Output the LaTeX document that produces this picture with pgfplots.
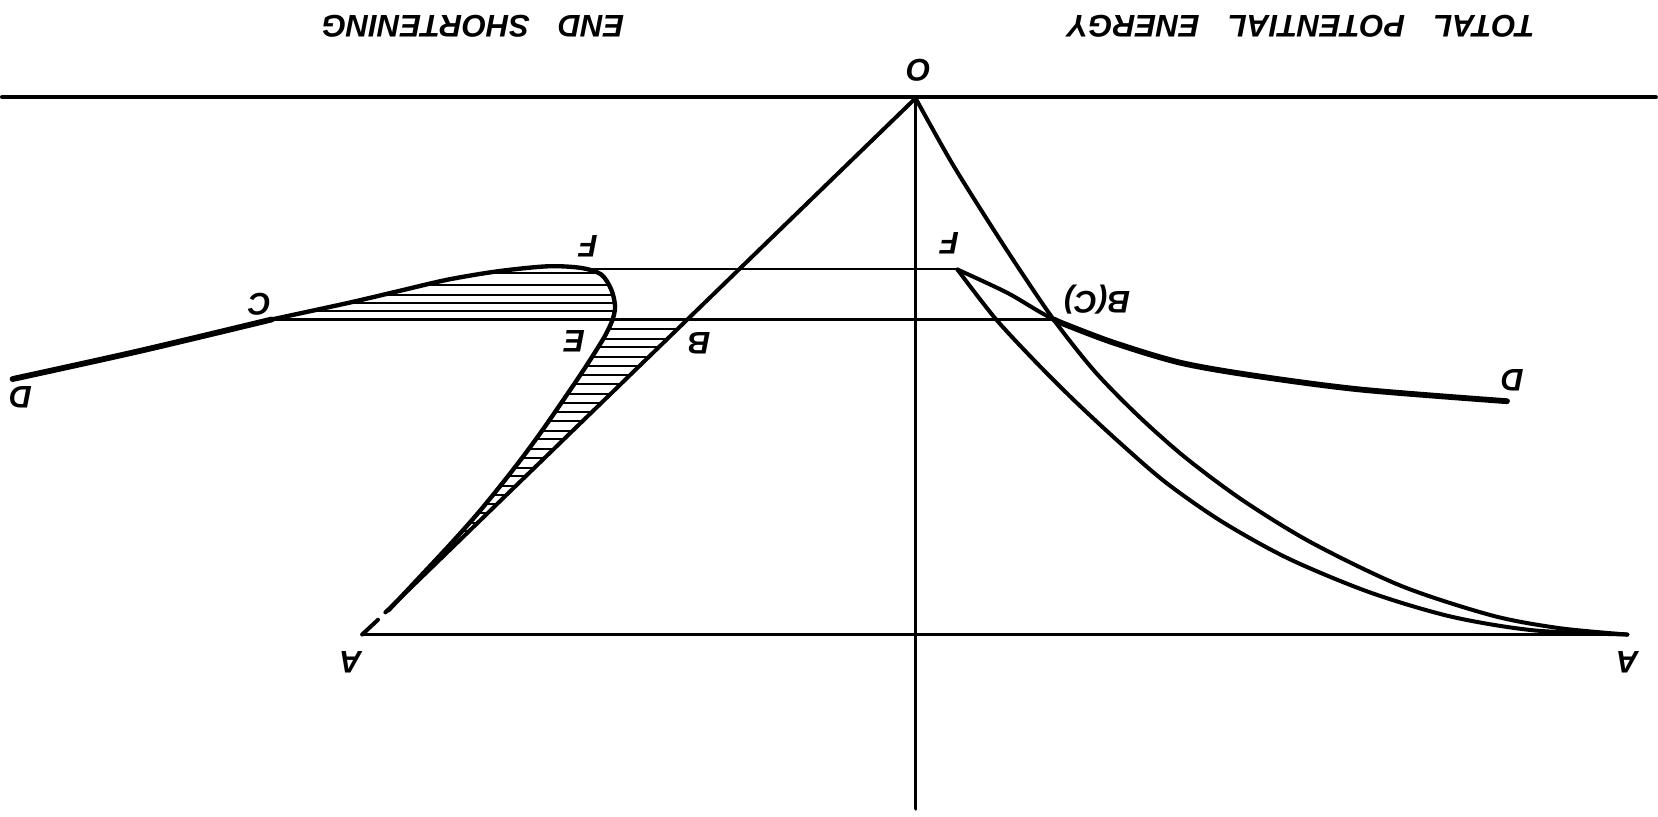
\documentclass[border=0pt]{standalone}
\usepackage{fontspec}
\setmainfont{Liberation Sans}
\usepackage{pgfplots}
\usepackage{pgfplotstable}
\pgfplotsset{compat=1.18}

% hatch lines: left end, right end, y (picture units, y downwards)
\pgfplotstableread{
x y
460 259
567.4 259
nan nan
402.2 269.5
573.7 269.5
nan nan
361.5 279
577.8 279
nan nan
327.3 287
579.8 287
nan nan
290.4 295
578.8 295
}\hatchup

\pgfplotstableread{
x y
573.8 312
639.1 312
nan nan
569.2 321
629.8 321
nan nan
564.3 329
621.6 329
nan nan
558.7 338
612.3 338
nan nan
552.9 347
603 347
nan nan
547.7 355
594.7 355
nan nan
541.6 364
585.5 364
nan nan
535.4 373
576.2 373
nan nan
529.3 382
566.9 382
nan nan
523.8 390
558.6 390
nan nan
517.5 399
549.4 399
nan nan
511.3 408
540.1 408
nan nan
505.4 416
531.8 416
nan nan
498.8 425
522.5 425
nan nan
492.2 434
513.3 434
nan nan
485.2 443
504 443
nan nan
479 451
495.7 451
nan nan
472 460
486.4 460
nan nan
464.6 469
477.2 469
nan nan
458 477
468.9 477
nan nan
450.7 486
459.6 486
nan nan
442.7 495
450.3 495
nan nan
435.6 503
442.1 503
}\hatchlow

\begin{document}
\begin{tikzpicture}
\begin{axis}[
    width=16cm, height=7.885cm, scale only axis,
    xmin=0, xmax=1568, ymin=0, ymax=773,
    y dir=reverse,
    hide axis, clip=false,
    unbounded coords=jump,
    every axis plot/.append style={black, line cap=round, line join=round},
]
% frame of the picture
\addplot[draw=none] coordinates {(0,0) (1568,773)};

% reference lines
\addplot[line width=1.1pt] coordinates {(0,92) (1566,92)};
\addplot[line width=1.05pt] coordinates {(865,93) (865,766)};
\addplot[line width=0.75pt] coordinates {(341,601) (1539,601)};
\addplot[line width=0.7pt] coordinates {(548,254.7) (905,254.7)};
\addplot[line width=0.7pt] coordinates {(255.3,302.6) (996,302.6)};

% straight line O-A (with the small break near A)
\addplot[line width=1.1pt] coordinates {(865,93) (363,580)};
\addplot[line width=1.1pt] coordinates {(356,587) (341,601)};

% end shortening path D-C-F-E-A
\addplot[line width=1.6pt, smooth] coordinates {(10,359) (130,332.5) (255.3,302.6)};
\addplot[line width=1.2pt, smooth] coordinates {
    (255.3,302.6) (327.8,286.9) (375.1,275.8) (422.4,264.8) (469.7,256.9)
    (517,252.2) (548.5,253.8) (567.4,260) (576.9,274.3) (580.5,290)
    (578,303) (571,318) (560,336) (547,356) (530,381) (512,407)
    (493,433) (472,460) (449,488) (424,516) (396,546) (366,578)};

% hatching
\addplot[line width=0.55pt] table {\hatchup};
\addplot[line width=0.55pt] table {\hatchlow};

% total potential energy: O-A
\addplot[line width=1.1pt, smooth] coordinates {
    (865,93) (898,152) (929,202) (960,250) (996,303) (1034,351)
    (1075,393) (1120,433) (1175,474) (1240,514) (1325,555) (1411,583)
    (1475,595) (1539,601)};
% F-A
\addplot[line width=1.1pt, smooth] coordinates {
    (904.7,255.3) (940,301) (978,342) (1016,380) (1058,419) (1102,457)
    (1155,494) (1218,529) (1295,561) (1372,584) (1450,597) (1539,601)};
% F-B(C)-D
\addplot[line width=1.1pt, smooth] coordinates {
    (904.7,255.3) (952,277.4) (996.1,302.6) (1052.9,324.7)};
\addplot[line width=1.6pt, smooth] coordinates {
    (996.1,302.6) (1006,307) (1052.9,324.7) (1116,343.6) (1187,356) (1287,369) (1425,380)};

% labels (the drawing is upside down)
\begin{scope}[every node/.style={rotate=180, font=\fontsize{8.6}{9}\selectfont\bfseries\itshape, inner sep=0pt}]
\node at (axis cs:446,25) {END\hspace{0.9em}SHORTENING};
\node at (axis cs:1230,25) {TOTAL\hspace{0.9em}POTENTIAL\hspace{0.9em}ENERGY};
\node at (axis cs:868,67) {O};
\node at (axis cs:555,233) {F};
\node at (axis cs:897,230) {F};
\node at (axis cs:244,288) {C};
\node at (axis cs:542,323) {E};
\node at (axis cs:660,325) {B};
\node at (axis cs:1037,284) {B(C)};
\node at (axis cs:17.5,376) {D};
\node at (axis cs:1430,360) {D};
\node at (axis cs:330,627) {A};
\node at (axis cs:1539,627) {A};
\end{scope}
\end{axis}
\end{tikzpicture}
\end{document}
